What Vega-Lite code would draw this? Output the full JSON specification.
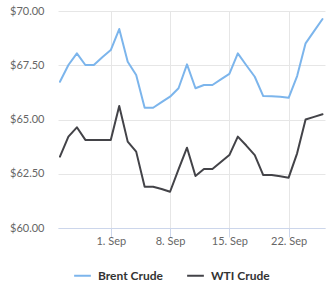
{
  "$schema": "https://vega.github.io/schema/vega-lite/v6.json",
  "autosize": {"type": "none"},
  "width": 267,
  "height": 217,
  "padding": {"left": 58, "top": 11, "right": 10, "bottom": 72},
  "background": "#ffffff",
  "config": {
    "font": "Lato",
    "view": {"stroke": null}
  },
  "data": {
    "values": [
      {"date": "2026-08-26", "series": "Brent Crude", "price": 66.74},
      {"date": "2026-08-27", "series": "Brent Crude", "price": 67.51},
      {"date": "2026-08-28", "series": "Brent Crude", "price": 68.05},
      {"date": "2026-08-29", "series": "Brent Crude", "price": 67.51},
      {"date": "2026-08-30", "series": "Brent Crude", "price": 67.51},
      {"date": "2026-08-31", "series": "Brent Crude", "price": 67.87},
      {"date": "2026-09-01", "series": "Brent Crude", "price": 68.2},
      {"date": "2026-09-02", "series": "Brent Crude", "price": 69.17},
      {"date": "2026-09-03", "series": "Brent Crude", "price": 67.66},
      {"date": "2026-09-04", "series": "Brent Crude", "price": 67.05},
      {"date": "2026-09-05", "series": "Brent Crude", "price": 65.54},
      {"date": "2026-09-06", "series": "Brent Crude", "price": 65.54},
      {"date": "2026-09-07", "series": "Brent Crude", "price": 65.8},
      {"date": "2026-09-08", "series": "Brent Crude", "price": 66.05},
      {"date": "2026-09-09", "series": "Brent Crude", "price": 66.44},
      {"date": "2026-09-10", "series": "Brent Crude", "price": 67.54},
      {"date": "2026-09-11", "series": "Brent Crude", "price": 66.44},
      {"date": "2026-09-12", "series": "Brent Crude", "price": 66.59},
      {"date": "2026-09-13", "series": "Brent Crude", "price": 66.59},
      {"date": "2026-09-14", "series": "Brent Crude", "price": 66.85},
      {"date": "2026-09-15", "series": "Brent Crude", "price": 67.1},
      {"date": "2026-09-16", "series": "Brent Crude", "price": 68.05},
      {"date": "2026-09-17", "series": "Brent Crude", "price": 67.5},
      {"date": "2026-09-18", "series": "Brent Crude", "price": 66.97},
      {"date": "2026-09-19", "series": "Brent Crude", "price": 66.08},
      {"date": "2026-09-20", "series": "Brent Crude", "price": 66.07},
      {"date": "2026-09-21", "series": "Brent Crude", "price": 66.05},
      {"date": "2026-09-22", "series": "Brent Crude", "price": 66.0},
      {"date": "2026-09-23", "series": "Brent Crude", "price": 67.0},
      {"date": "2026-09-24", "series": "Brent Crude", "price": 68.51},
      {"date": "2026-09-25", "series": "Brent Crude", "price": 69.07},
      {"date": "2026-09-26", "series": "Brent Crude", "price": 69.63},
      {"date": "2026-08-26", "series": "WTI Crude", "price": 63.29},
      {"date": "2026-08-27", "series": "WTI Crude", "price": 64.21},
      {"date": "2026-08-28", "series": "WTI Crude", "price": 64.64},
      {"date": "2026-08-29", "series": "WTI Crude", "price": 64.06},
      {"date": "2026-08-30", "series": "WTI Crude", "price": 64.06},
      {"date": "2026-08-31", "series": "WTI Crude", "price": 64.06},
      {"date": "2026-09-01", "series": "WTI Crude", "price": 64.06},
      {"date": "2026-09-02", "series": "WTI Crude", "price": 65.62},
      {"date": "2026-09-03", "series": "WTI Crude", "price": 63.98},
      {"date": "2026-09-04", "series": "WTI Crude", "price": 63.52},
      {"date": "2026-09-05", "series": "WTI Crude", "price": 61.9},
      {"date": "2026-09-06", "series": "WTI Crude", "price": 61.9},
      {"date": "2026-09-07", "series": "WTI Crude", "price": 61.8},
      {"date": "2026-09-08", "series": "WTI Crude", "price": 61.67},
      {"date": "2026-09-09", "series": "WTI Crude", "price": 62.7},
      {"date": "2026-09-10", "series": "WTI Crude", "price": 63.7},
      {"date": "2026-09-11", "series": "WTI Crude", "price": 62.4},
      {"date": "2026-09-12", "series": "WTI Crude", "price": 62.72},
      {"date": "2026-09-13", "series": "WTI Crude", "price": 62.72},
      {"date": "2026-09-14", "series": "WTI Crude", "price": 63.04},
      {"date": "2026-09-15", "series": "WTI Crude", "price": 63.36},
      {"date": "2026-09-16", "series": "WTI Crude", "price": 64.21},
      {"date": "2026-09-17", "series": "WTI Crude", "price": 63.8},
      {"date": "2026-09-18", "series": "WTI Crude", "price": 63.36},
      {"date": "2026-09-19", "series": "WTI Crude", "price": 62.44},
      {"date": "2026-09-20", "series": "WTI Crude", "price": 62.44},
      {"date": "2026-09-21", "series": "WTI Crude", "price": 62.38},
      {"date": "2026-09-22", "series": "WTI Crude", "price": 62.32},
      {"date": "2026-09-23", "series": "WTI Crude", "price": 63.44},
      {"date": "2026-09-24", "series": "WTI Crude", "price": 65.0},
      {"date": "2026-09-25", "series": "WTI Crude", "price": 65.12},
      {"date": "2026-09-26", "series": "WTI Crude", "price": 65.24}
    ],
    "format": {"parse": {"date": "date:'%Y-%m-%d'"}}
  },
  "mark": {"type": "line", "strokeWidth": 2, "interpolate": "linear", "strokeJoin": "round", "strokeCap": "round"},
  "encoding": {
    "x": {
      "field": "date",
      "type": "temporal",
      "scale": {
        "domain": [
          {"year": 2026, "month": 8, "date": 25, "hours": 18, "minutes": 30},
          {"year": 2026, "month": 9, "date": 26, "hours": 7}
        ]
      },
      "axis": {
        "title": null,
        "values": [
          {"year": 2026, "month": 9, "date": 1},
          {"year": 2026, "month": 9, "date": 8},
          {"year": 2026, "month": 9, "date": 15},
          {"year": 2026, "month": 9, "date": 22}
        ],
        "format": "%-d. %b",
        "labelFontSize": 11,
        "labelColor": "#666666",
        "labelPadding": -2,
        "tickSize": 9,
        "tickColor": "#ccd6eb",
        "domainColor": "#ccd6eb",
        "grid": true,
        "gridColor": "#e6e6e6",
        "gridWidth": 1
      }
    },
    "y": {
      "field": "price",
      "type": "quantitative",
      "scale": {"domain": [60, 70], "nice": false, "zero": false},
      "axis": {
        "title": null,
        "values": [60, 62.5, 65, 67.5, 70],
        "format": "$.2f",
        "labelFontSize": 11,
        "labelColor": "#666666",
        "labelPadding": 14,
        "ticks": false,
        "domain": false,
        "gridColor": "#e6e6e6"
      }
    },
    "color": {
      "field": "series",
      "type": "nominal",
      "scale": {"domain": ["Brent Crude", "WTI Crude"], "range": ["#7cb5ec", "#434348"]},
      "legend": {
        "title": null,
        "orient": "none",
        "direction": "horizontal",
        "legendX": 15,
        "legendY": 255,
        "symbolType": "stroke",
        "symbolSize": 280,
        "symbolStrokeWidth": 2,
        "labelFontSize": 12,
        "labelFontWeight": "bold",
        "labelColor": "#333333",
        "labelOffset": 6,
        "columnPadding": 20
      }
    }
  }
}
